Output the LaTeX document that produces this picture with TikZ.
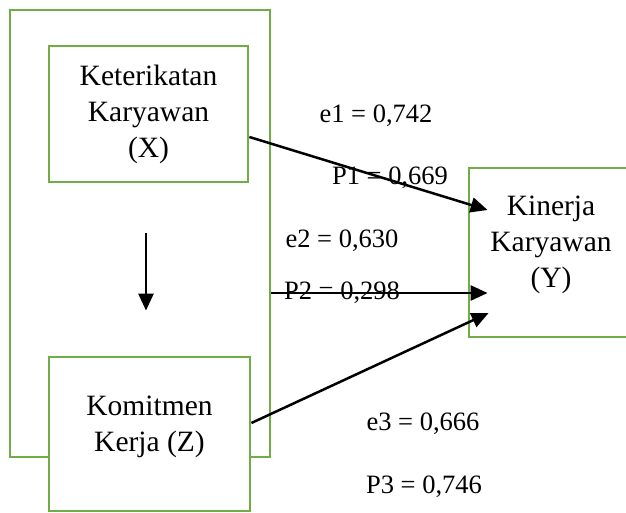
\documentclass[tikz,border=0pt]{standalone}
\usepackage{fontspec}
\setmainfont{Liberation Serif}
\usepackage{tikz}
\usetikzlibrary{calc}
\usetikzlibrary{arrows.meta}
\definecolor{boxgreen}{RGB}{112,173,71}
\tikzset{
	boxstyle/.style={rectangle,draw=boxgreen,line width=2.8pt,fill=white,inner sep=0pt},
	textstyle/.style={align=center,inner sep=0pt,font=\fontsize{29.5}{36}\selectfont},
	labelstyle/.style={anchor=base,inner sep=0pt,font=\fontsize{26.5}{32}\selectfont},
	arrowstyle/.style={draw=black,line width=2.5pt,-{Triangle[length=17pt,width=15pt]}}
}
\begin{document}
\begin{tikzpicture}[x=1pt,y=1pt]
		\useasboundingbox (0,0) rectangle (626,512);
		\node[boxstyle,minimum width=260,minimum height=447] (outer) at (140,278.5) {};
		\node[boxstyle,minimum width=199,minimum height=136,textstyle] (xbox) at (148.5,398) {Keterikatan\\Karyawan\\(X)};
		\node[boxstyle,minimum width=201,minimum height=154] (zbox) at (149.5,78) {};
		\node[textstyle] (ztext) at (149.5,85) {Komitmen\\Kerja (Z)};
		\node[boxstyle,minimum width=180,minimum height=169] (ybox) at (559,259.5) {};
		\node[textstyle] (ytext) at (551,267) {Kinerja\\Karyawan\\(Y)};
		\node[labelstyle] (e1) at (376,389) {e1 = 0,742};
		\node[labelstyle] (p1) at (390,327) {P1 = 0,669};
		\node[labelstyle] (e2) at (342,265) {e2 = 0,630};
		\node[labelstyle] (p2) at (342,213) {P2 = 0,298};
		\node[labelstyle] (e3) at (423,82) {e3 = 0,666};
		\node[labelstyle] (p3) at (424,19) {P3 = 0,746};
		\draw[arrowstyle] ($(xbox.south)+(-2.5,-50)$) -- ($(zbox.north)+(-3.5,45)$);
		\draw[arrowstyle] ($(xbox.east)+(0,-23)$) -- ($(ybox.west)+(20,42.5)$);
		\draw[arrowstyle] ($(outer.east)+(0,-59.5)$) -- ($(ybox.west)+(20,-40.5)$);
		\draw[arrowstyle] ($(zbox.east)+(0,11)$) -- ($(ybox.west)+(21,-60.5)$);
\end{tikzpicture}
\end{document}
